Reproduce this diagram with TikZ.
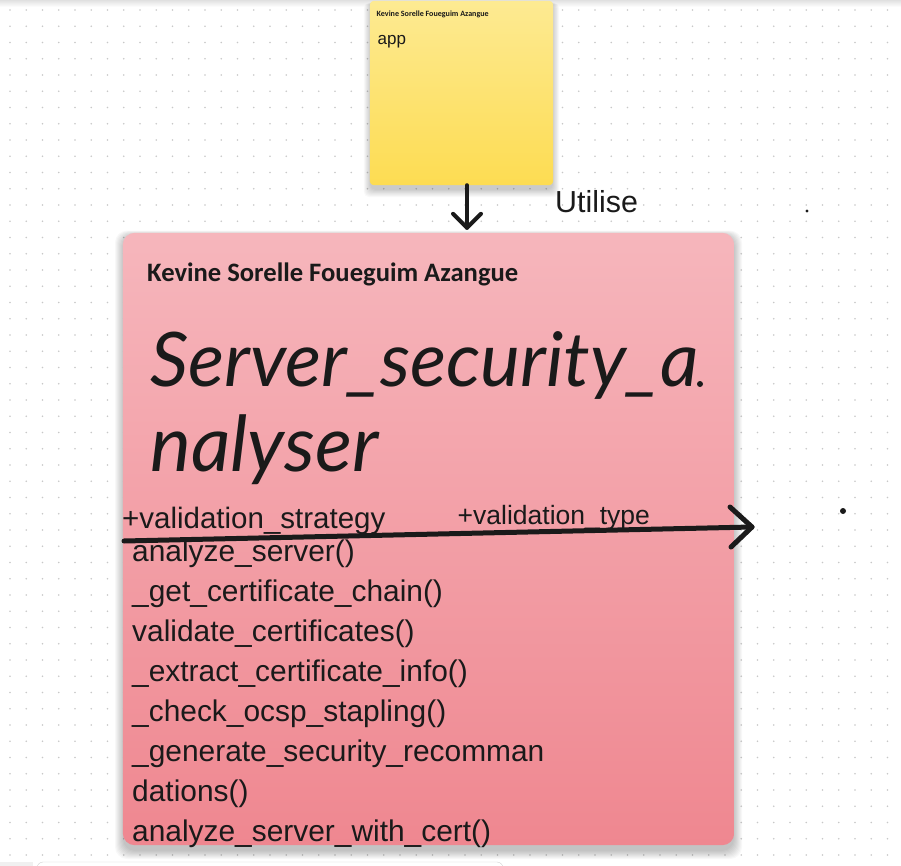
\documentclass[tikz,border=0pt]{standalone}
\usepackage{fontspec}
\usetikzlibrary{calc}
\setmainfont{Liberation Sans}
\newfontfamily\headfont{Carlito}
\newfontfamily\handfont{Lato}
\definecolor{dotc}{HTML}{C8C8C8}
\definecolor{ink}{HTML}{1A1A1A}
\definecolor{pinkA}{HTML}{F6B6BC}
\definecolor{pinkB}{HTML}{EF8790}
\definecolor{yelA}{HTML}{FDEA92}
\definecolor{yelB}{HTML}{FDDC52}
\tikzset{
  txt/.style={anchor=base west, inner sep=0pt, text=ink},
  method/.style={txt, font=\fontsize{29.9}{30}\selectfont},
  conn/.style={draw=ink, line cap=round, line join=round},
}
\begin{document}
\begin{tikzpicture}[x=1pt,y=-1pt]
\useasboundingbox (0,0) rectangle (901,866);
\fill[white] (0,0) rectangle (901,866);
\shade[top color=black!12, bottom color=white] (0,0) rectangle (901,7);
% dot grid
\foreach \i in {0,...,55}{
  \foreach \j in {0,...,53}{
    \fill[dotc] (10+\i*16.25, 10+\j*16.25) circle (0.9pt);
  }
}
% bottom toolbar edge
\fill[black!6] (-5,862) rectangle (33,875);
\draw[black!18, fill=white, rounded corners=6pt] (37,862) rectangle (503,880);
% shadows
\foreach \k in {1,...,9}{
  \fill[black, opacity=0.028, rounded corners=12pt] (124-\k,236-\k*0.6) rectangle (733+\k,850+\k);
  \fill[black, opacity=0.025, rounded corners=5pt] (371-\k*0.8,3) rectangle (552+\k*0.8,189+\k*0.9);
}
% yellow note
\node[name=app, minimum width=183pt, minimum height=184pt, inner sep=0pt] at (461.5,93) {};
\shade[rounded corners=4pt, shading angle=30, top color=yelA, bottom color=yelB] (app.north west) rectangle (app.south east);
\node[txt] at (376.5,17) {\resizebox{112pt}{!}{\headfont\bfseries Kevine Sorelle Foueguim Azangue}};
\node[txt, font=\fontsize{17}{18}\selectfont] at (377.5,44.5) {app};
% pink class box
\node[name=cls, minimum width=611pt, minimum height=612pt, inner sep=0pt] at (428.5,539) {};
\shade[rounded corners=12pt, shading angle=30, top color=pinkA, bottom color=pinkB] (cls.north west) rectangle (cls.south east);
\node[txt] at (147,281) {\resizebox{371pt}{!}{\headfont\bfseries Kevine Sorelle Foueguim Azangue}};
\node[txt] at (150,386) {\resizebox{548pt}{!}{\handfont\itshape Server\_security\_a}};
\fill[ink] (700,384) circle (3pt);
\node[txt] at (150,471) {\resizebox{228pt}{!}{\handfont\itshape nalyser}};
\node[txt, font=\fontsize{29.5}{30}\selectfont] at (122,528.5) {+validation\_strategy};
\node[txt, font=\fontsize{26.5}{27}\selectfont] at (457.5,524.5) {+validation\_type};
\node[method] at (132,561.5) {analyze\_server()};
\node[method] at (132,601.5) {\_get\_certificate\_chain()};
\node[method] at (132,641.5) {validate\_certificates()};
\node[method] at (132,681.5) {\_extract\_certificate\_info()};
\node[method] at (132,721.5) {\_check\_ocsp\_stapling()};
\node[method] at (132,761.5) {\_generate\_security\_recomman};
\node[method] at (132,801.5) {dations()};
\node[method] at (132,841.5) {analyze\_server\_with\_cert()};
% Utilise label
\node[txt, font=\fontsize{30.4}{30}\selectfont] at (555,213) {Utilise};
% connector app -> class
\coordinate (a1) at ($(app.south)+(5.5,0)$);
\coordinate (a2) at ($(cls.north)+(38.5,-5)$);
\draw[conn, line width=4pt] (a1) -- (a2);
\draw[conn, line width=4pt] ($(a2)+(-14,-14)$) -- (a2) -- ($(a2)+(14,-14)$);
% separator arrow
\coordinate (s1) at (124,541);
\coordinate (s2) at (752,527);
\draw[conn, line width=5pt] (s1) -- (s2);
\draw[conn, line width=5pt] (730,507) -- (s2) -- (731,547);
% stray ink dots
\fill[ink] (807,211) circle (1.6pt);
\fill[ink] (843,511) circle (3pt);
\end{tikzpicture}
\end{document}
